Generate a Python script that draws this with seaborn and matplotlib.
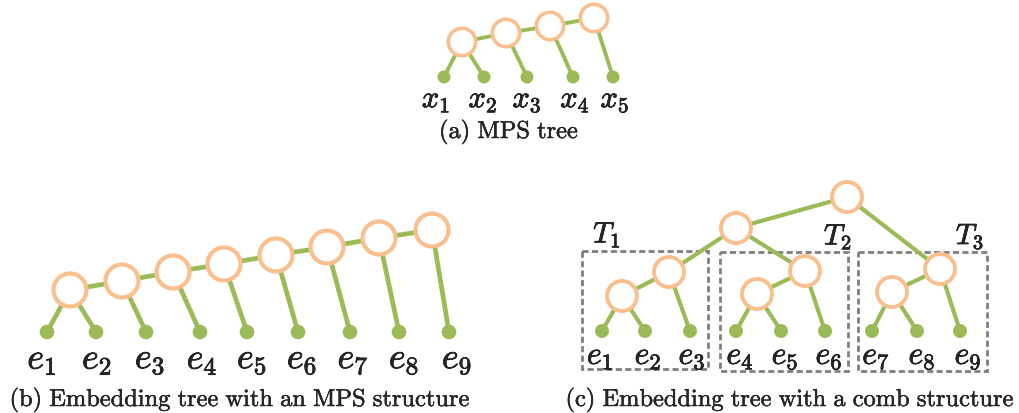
import matplotlib.pyplot as plt
import matplotlib.patheffects as pe
import seaborn as sns
from matplotlib.patches import Circle, Rectangle

sns.set_style("white")
plt.rcParams['mathtext.fontset'] = 'cm'

GREEN = '#9bbb59'
PEACH = '#f9bf8f'
GREY = '#7f7f7f'

# (a) MPS tree -- pixel positions
a_nodes_x = [462, 506, 550, 594]
a_nodes_y = [43, 34, 27, 19]
a_leaves_x = [444, 484, 527, 573, 613]
a_leaves_y = [78, 78, 78, 78, 78]
a_leaf_parent = [0, 0, 1, 2, 3]
a_labels = [r'$x_{%d}$' % i for i in range(1, 6)]
a_label_x = [436, 483, 527, 575, 615]

# (b) embedding tree, MPS structure
b_nodes_x = [70, 122, 173, 224, 276, 327, 379, 432]
b_nodes_y = [291, 282, 273, 265, 256, 248, 239, 231]
b_leaves_x = [47, 96, 146, 200, 247, 298, 350, 399, 449]
b_leaves_y = [333] * 9
b_leaf_parent = [0, 0, 1, 2, 3, 4, 5, 6, 7]
b_labels = [r'$e_{%d}$' % i for i in range(1, 10)]
b_label_x = [42, 97, 150, 202, 252, 302, 353, 404, 457]

# (c) embedding tree, comb structure
c_nodes_x = [847, 736, 669, 622, 805, 757, 940, 892]
c_nodes_y = [198, 229, 273, 297, 272, 295, 270, 293]
c_edges = [(0, 1), (0, 6), (1, 2), (1, 4), (2, 3), (4, 5), (6, 7)]
c_leaves_x = [602, 645, 690, 736, 781, 825, 872, 917, 960]
c_leaves_y = [332] * 9
c_leaf_parent = [3, 3, 2, 5, 5, 4, 7, 7, 6]
c_labels = [r'$e_{%d}$' % i for i in range(1, 10)]
c_label_x = [600, 648, 692, 740, 785, 829, 876, 922, 968]
c_boxes = [(582, 252, 126, 118), (720, 253, 128, 119), (858, 253, 129, 119)]
c_box_names = [r'$T_1$', r'$T_2$', r'$T_3$']
c_box_name_xy = [(607, 236), (838, 238), (970, 238)]

captions = [r'$\mathrm{(a)\ MPS\ tree}$',
            r'$\mathrm{(b)\ Embedding\ tree\ with\ an\ MPS\ structure}$',
            r'$\mathrm{(c)\ Embedding\ tree\ with\ a\ comb\ structure}$']
caption_xy = [(509, 133), (240, 401), (790, 401)]

fig = plt.figure(figsize=(10.19, 4.14), dpi=100)
ax = fig.add_axes([0, 0, 1, 1])
ax.set_xlim(0, 1019)
ax.set_ylim(414, 0)
ax.axis('off')

# thicken text slightly, like the rasterised pdf fonts in the reference
heavy = [pe.withStroke(linewidth=0.5, foreground='black')]


def draw_tree(nx, ny, edges, lx, ly, parent, r_node, r_leaf, lw_ring, lw_edge):
    for i, j in edges:
        ax.plot([nx[i], nx[j]], [ny[i], ny[j]], color=GREEN, lw=lw_edge,
                solid_capstyle='butt', zorder=1)
    for k, p in enumerate(parent):
        ax.plot([lx[k], nx[p]], [ly[k], ny[p]], color=GREEN, lw=lw_edge,
                solid_capstyle='butt', zorder=1)
    for x, y in zip(nx, ny):
        ax.add_patch(Circle((x, y), r_node, facecolor='white', edgecolor=PEACH,
                            lw=lw_ring, zorder=3))
    for x, y in zip(lx, ly):
        ax.add_patch(Circle((x, y), r_leaf, facecolor=GREEN, edgecolor='none', zorder=2))


chain_a = [(i, i + 1) for i in range(len(a_nodes_x) - 1)]
draw_tree(a_nodes_x, a_nodes_y, chain_a, a_leaves_x, a_leaves_y, a_leaf_parent,
          13.7, 6.5, 2.6, 2.8)
chain_b = [(i, i + 1) for i in range(len(b_nodes_x) - 1)]
draw_tree(b_nodes_x, b_nodes_y, chain_b, b_leaves_x, b_leaves_y, b_leaf_parent,
          16.5, 7.3, 3.0, 3.4)
draw_tree(c_nodes_x, c_nodes_y, c_edges, c_leaves_x, c_leaves_y, c_leaf_parent,
          15.0, 7.0, 2.8, 3.0)

for x, s in zip(a_label_x, a_labels):
    ax.text(x, 101, s, fontsize=22, ha='center', va='center', path_effects=heavy)
for x, s in zip(b_label_x, b_labels):
    ax.text(x, 361, s, fontsize=26, ha='center', va='center', path_effects=heavy)
for x, s in zip(c_label_x, c_labels):
    ax.text(x, 357, s, fontsize=23, ha='center', va='center', path_effects=heavy)

for (x, y, w, h) in c_boxes:
    ax.add_patch(Rectangle((x, y), w, h, fill=False, edgecolor=GREY, lw=2.0,
                           ls=(0, (2.2, 1.2)), zorder=0))
for (x, y), s in zip(c_box_name_xy, c_box_names):
    ax.text(x, y, s, fontsize=21, ha='center', va='center', path_effects=heavy)

for (x, y), s in zip(caption_xy, captions):
    ax.text(x, y, s, fontsize=17.6, ha='center', va='center',
            path_effects=[pe.withStroke(linewidth=0.3, foreground='black')])

fig.savefig('out.png', dpi=100)
